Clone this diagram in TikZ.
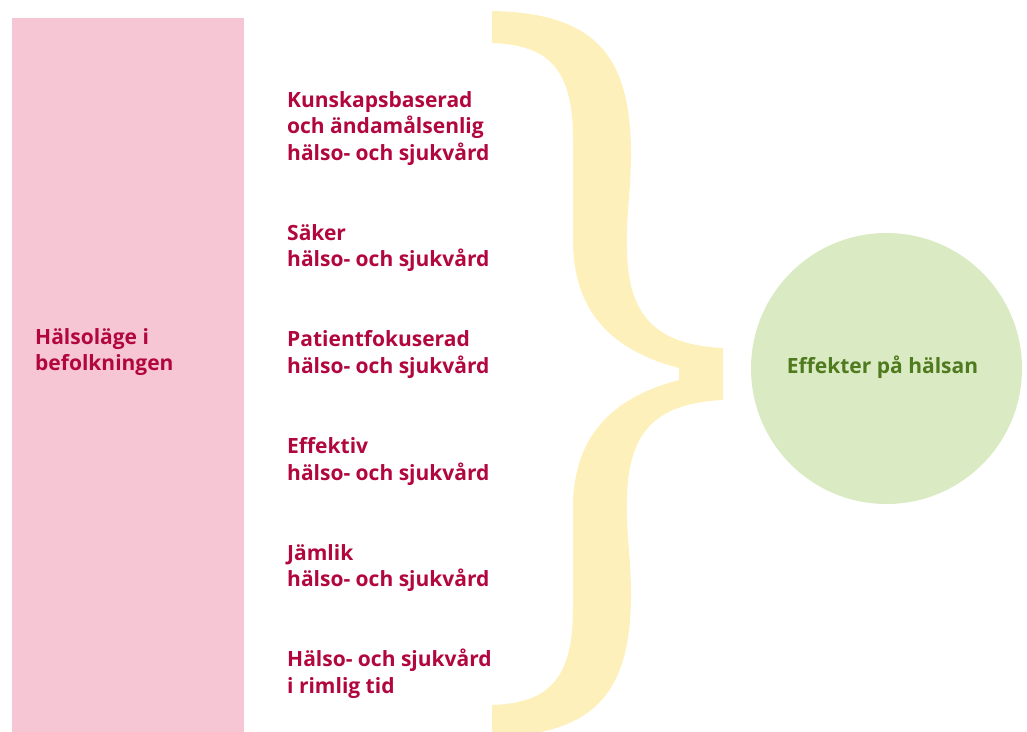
\documentclass[tikz,border=0pt]{standalone}
\usepackage{fontspec}
\setmainfont{Open Sans}
\definecolor{pinkbox}{HTML}{F6C6D4}
\definecolor{bracecol}{HTML}{FEF0BA}
\definecolor{circcol}{HTML}{DAEAC3}
\definecolor{redtxt}{HTML}{B2063E}
\definecolor{greentxt}{HTML}{4F7A1E}
\tikzset{
  lbl/.style={anchor=base west, inner sep=0pt, align=left, text=redtxt,
    font=\fontsize{21}{26.5}\selectfont\bfseries},
}
\begin{document}
\begin{tikzpicture}[x=1pt,y=-1pt]
\useasboundingbox (0,0) rectangle (1027,731);
\clip (0,0) rectangle (1027,731);
% left box
\fill[pinkbox] (12,18) rectangle (244,740);
\node[lbl] (state) at (35,370.5) {Hälsoläge i\\befolkningen};
% brace
\fill[bracecol] (492,11) .. controls (600,13) and (632,60) .. (631,160)
  .. controls (630,200) and (626,215) .. (627,250)
  .. controls (628,320) and (660,345) .. (723,348)
  -- (723,400)
  .. controls (660,403) and (628,428) .. (627,498)
  .. controls (626,533) and (630,548) .. (631,588)
  .. controls (632,688) and (600,735) .. (492,737)
  -- (492,705)
  .. controls (550,703) and (573,678) .. (573,608)
  -- (573,508)
  .. controls (573,438) and (610,398) .. (679,380)
  -- (679,368)
  .. controls (610,350) and (573,310) .. (573,240)
  -- (573,140)
  .. controls (573,70) and (550,45) .. (492,43)
  -- cycle;
% labels (anchor = baseline of last line)
\node[lbl] (k1) at (287,160) {Kunskapsbaserad\\och ändamålsenlig\\hälso- och sjukvård};
\node[lbl] (k2) at (287,266.7) {Säker\\hälso- och sjukvård};
\node[lbl] (k3) at (287,373.3) {Patientfokuserad\\hälso- och sjukvård};
\node[lbl] (k4) at (287,480) {Effektiv\\hälso- och sjukvård};
\node[lbl] (k5) at (287,586.7) {Jämlik\\hälso- och sjukvård};
\node[lbl] (k6) at (287,693.3) {Hälso- och sjukvård\\i rimlig tid};
% circle
\node[circle, fill=circcol, minimum size=271pt, inner sep=0pt] (eff) at (886.5,368.5) {};
\node[anchor=base, inner sep=0pt, text=greentxt, font=\fontsize{21}{26}\selectfont\bfseries] (efftxt) at (882.5,373) {Effekter på hälsan};
\end{tikzpicture}
\end{document}
